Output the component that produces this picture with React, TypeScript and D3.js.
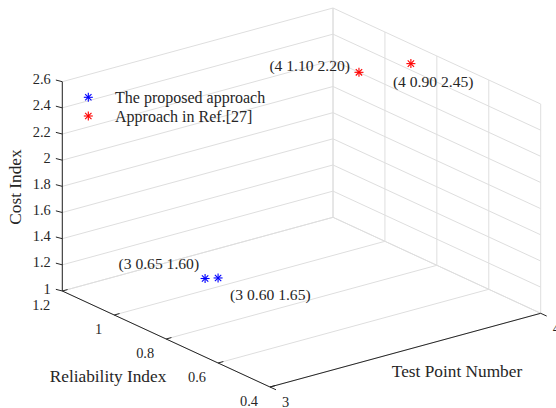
import React from "react";
import * as d3 from "d3";

// ---- data ----
const xTicks = [3, 4];
const xTickLabels = ["3", "4"];
const yTicks = [1.2, 1, 0.8, 0.6, 0.4];
const yTickLabels = ["1.2", "1", "0.8", "0.6", "0.4"];
const zTicks = [1, 1.2, 1.4, 1.6, 1.8, 2, 2.2, 2.4, 2.6];
const zTickLabels = ["1", "1.2", "1.4", "1.6", "1.8", "2", "2.2", "2.4", "2.6"];

const proposedX = [3, 3];
const proposedY = [0.65, 0.6];
const proposedZ = [1.6, 1.65];
const proposedLabels = ["(3 0.65 1.60)", "(3 0.60 1.65)"];

const refX = [4, 4];
const refY = [1.1, 0.9];
const refZ = [2.2, 2.45];
const refLabels = ["(4 1.10 2.20)", "(4 0.90 2.45)"];

const seriesNames = ["The proposed approach", "Approach in Ref.[27]"];
const seriesColors = ["#0000ff", "#ff0000"];

// ---- layout ----
const W = 556;
const H = 408;
const FONT = "'Liberation Serif', 'Times New Roman', serif";
const AXIS = "#262626";
const GRID = "#dedede";

const origin = [62.3, 291];
const xVec = [270.7, -73.7];
const yVec = [207.7, 96];
const zLen = 209.3;

const sx = d3.scaleLinear().domain([3, 4]).range([0, 1]);
const sy = d3.scaleLinear().domain([1.2, 0.4]).range([0, 1]);
const sz = d3.scaleLinear().domain([1, 2.6]).range([0, zLen]);

function P(x: number, y: number, z: number): [number, number] {
  const a = sx(x), b = sy(y);
  return [origin[0] + a * xVec[0] + b * yVec[0], origin[1] + a * xVec[1] + b * yVec[1] - sz(z)];
}

const xLo = 3, xHi = 4, yLo = 0.4, yHi = 1.2, zLo = 1, zHi = 2.6;

function seg(p: [number, number], q: [number, number], key: string, color: string, w = 1) {
  return <line key={key} x1={p[0]} y1={p[1]} x2={q[0]} y2={q[1]} stroke={color} strokeWidth={w} />;
}

function Star({ x, y, color }: { x: number; y: number; color: string }) {
  const r = 4.5;
  const d = r * 0.7071;
  return (
    <g stroke={color} strokeWidth={1.1}>
      <line x1={x - r} y1={y} x2={x + r} y2={y} />
      <line x1={x} y1={y - r} x2={x} y2={y + r} />
      <line x1={x - d} y1={y - d} x2={x + d} y2={y + d} />
      <line x1={x - d} y1={y + d} x2={x + d} y2={y - d} />
    </g>
  );
}

const norm = (v: number[]) => {
  const l = Math.hypot(v[0], v[1]);
  return [v[0] / l, v[1] / l];
};

export default function App() {
  const grid: JSX.Element[] = [];
  zTicks.forEach((z, i) => {
    grid.push(seg(P(xLo, yHi, z), P(xHi, yHi, z), `bz${i}`, GRID));
    grid.push(seg(P(xHi, yHi, z), P(xHi, yLo, z), `sz${i}`, GRID));
  });
  yTicks.forEach((y, i) => {
    grid.push(seg(P(xHi, y, zLo), P(xHi, y, zHi), `sv${i}`, GRID));
    grid.push(seg(P(xLo, y, zLo), P(xHi, y, zLo), `fy${i}`, GRID));
  });
  xTicks.forEach((x, i) => {
    grid.push(seg(P(x, yLo, zLo), P(x, yHi, zLo), `fx${i}`, GRID));
    grid.push(seg(P(x, yHi, zLo), P(x, yHi, zHi), `bv${i}`, GRID));
  });

  const ux = norm(xVec);
  const uy = norm(yVec);
  const axes: JSX.Element[] = [];
  axes.push(seg(P(xLo, yHi, zLo), P(xLo, yHi, zHi), "zaxis", AXIS));
  axes.push(seg(P(xLo, yHi, zLo), P(xLo, yLo, zLo), "yaxis", AXIS));
  axes.push(seg(P(xLo, yLo, zLo), P(xHi, yLo, zLo), "xaxis", AXIS));

  const labels: JSX.Element[] = [];
  zTicks.forEach((z, i) => {
    const p = P(xLo, yHi, z);
    axes.push(seg(p, [p[0] - 7 * 0.92, p[1] - 7 * 0.24], `zt${i}`, AXIS));
    labels.push(
      <text key={`zl${i}`} x={p[0] - 11.5} y={p[1] - 2.5} textAnchor="end" dominantBaseline="central" fontSize={14.4}>
        {zTickLabels[i]}
      </text>
    );
  });
  yTicks.forEach((y, i) => {
    const p = P(xLo, y, zLo);
    axes.push(seg(p, [p[0] + ux[0] * 5.5, p[1] + ux[1] * 5.5], `yt${i}`, AXIS));
    labels.push(
      <text key={`yl${i}`} x={p[0] - 12} y={p[1] + 13.5} textAnchor="end" dominantBaseline="central" fontSize={14.4}>
        {yTickLabels[i]}
      </text>
    );
  });
  xTicks.forEach((x, i) => {
    const p = P(x, yLo, zLo);
    axes.push(seg(p, [p[0] + uy[0] * 6.6, p[1] + uy[1] * 6.6], `xt${i}`, AXIS));
    labels.push(
      <text key={`xl${i}`} x={p[0] + 12} y={p[1] + 15} textAnchor="start" dominantBaseline="central" fontSize={14.4}>
        {xTickLabels[i]}
      </text>
    );
  });

  const pts: JSX.Element[] = [];
  const pLabelOffsets = [
    { dx: -6, dy: -15, anchor: "end" },
    { dx: 12, dy: 17, anchor: "start" },
  ];
  const rLabelOffsets = [
    { dx: -9, dy: -7, anchor: "end" },
    { dx: -18, dy: 18, anchor: "start" },
  ];
  proposedX.forEach((x, i) => {
    const p = P(x, proposedY[i], proposedZ[i]);
    pts.push(<Star key={`pp${i}`} x={p[0]} y={p[1]} color={seriesColors[0]} />);
    const o = pLabelOffsets[i];
    labels.push(
      <text key={`ppl${i}`} x={p[0] + o.dx} y={p[1] + o.dy} textAnchor={o.anchor as any} dominantBaseline="central" fontSize={15.6}>
        {proposedLabels[i]}
      </text>
    );
  });
  refX.forEach((x, i) => {
    const p = P(x, refY[i], refZ[i]);
    pts.push(<Star key={`rp${i}`} x={p[0]} y={p[1]} color={seriesColors[1]} />);
    const o = rLabelOffsets[i];
    labels.push(
      <text key={`rpl${i}`} x={p[0] + o.dx} y={p[1] + o.dy} textAnchor={o.anchor as any} dominantBaseline="central" fontSize={15.6}>
        {refLabels[i]}
      </text>
    );
  });

  return (
    <svg width={W} height={H} style={{ position: "absolute", left: 0, top: 0, background: "#fff" }} fontFamily={FONT} fill="#262626">
      <rect x={0} y={0} width={W} height={H} fill="#fff" />
      <g>{grid}</g>
      <g>{axes}</g>
      <g>{pts}</g>
      <g>{labels}</g>
      <text x={457} y={371} textAnchor="middle" dominantBaseline="central" fontSize={17.3}>Test Point Number</text>
      <text x={108} y={376} textAnchor="middle" dominantBaseline="central" fontSize={17.3}>Reliability Index</text>
      <text transform="translate(15,187) rotate(-90)" textAnchor="middle" dominantBaseline="central" fontSize={17.3}>Cost Index</text>
      {seriesNames.map((n, i) => (
        <g key={`lg${i}`}>
          <Star x={88.3} y={97.3 + i * 18.7} color={seriesColors[i]} />
          <text x={115} y={97.3 + i * 18.7} dominantBaseline="central" fontSize={16}>{n}</text>
        </g>
      ))}
    </svg>
  );
}
